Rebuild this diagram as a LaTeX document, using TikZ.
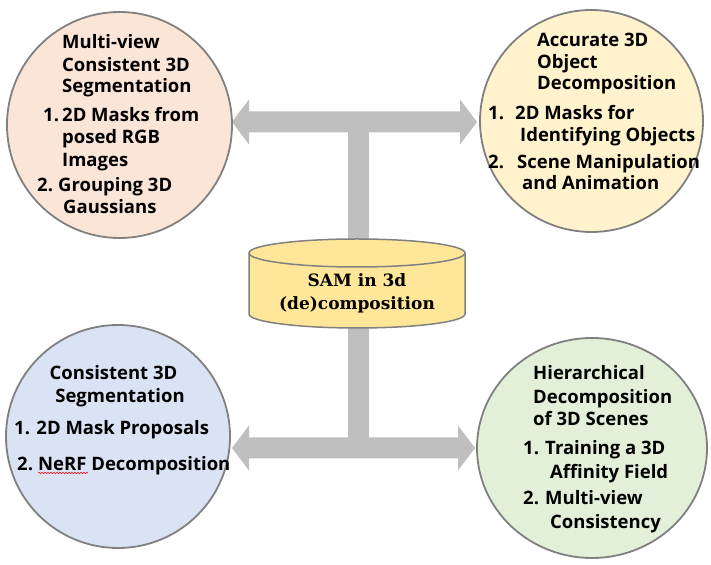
\documentclass[tikz,border=0pt]{standalone}
\usepackage{fontspec}
\usetikzlibrary{shapes.geometric,calc,decorations.pathmorphing}
\newfontfamily\notosans{Open Sans}[BoldFont={Open Sans Bold}]
\newfontfamily\serifbold{DejaVu Serif}
\definecolor{barg}{HTML}{BFBFBF}
\definecolor{edgeg}{HTML}{808080}
\definecolor{cpeach}{HTML}{FBE5D6}
\definecolor{cyel}{HTML}{FFF2CC}
\definecolor{cblue}{HTML}{DAE3F3}
\definecolor{cgreen}{HTML}{E2F0D9}
\definecolor{cgold}{HTML}{FFE699}
\tikzset{
  bubble/.style={ellipse, draw=edgeg, line width=1.8pt, inner sep=0pt},
  txt/.style={anchor=base west, inner sep=0pt, font=\notosans\bfseries\fontsize{18.5}{22}\selectfont},
  ctxt/.style={anchor=base, inner sep=0pt, font=\notosans\bfseries\fontsize{18.5}{22}\selectfont},
  bar/.style={fill=barg, draw=none},
  stem/.style={barg, line width=21pt},
}
\newcommand\dblarrow[2]{%
  \fill[bar] (#1) -- ($(#1)+(17,22.5)$) -- ($(#1)+(17,10.5)$) -- ($(#2)+(-17,10.5)$)
    -- ($(#2)+(-17,22.5)$) -- (#2) -- ($(#2)+(-17,-22.5)$) -- ($(#2)+(-17,-10.5)$)
    -- ($(#1)+(17,-10.5)$) -- ($(#1)+(17,-22.5)$) -- cycle;}
\begin{document}
\begin{tikzpicture}[x=1pt,y=1pt]
\useasboundingbox (0,0) rectangle (711,564);
% bars
\coordinate (topL) at (232,442);
\coordinate (topR) at (477,442);
\coordinate (botL) at (232,116);
\coordinate (botR) at (475,116);
\dblarrow{topL}{topR}
\dblarrow{botL}{botR}
\coordinate (cyltop) at (358,311);
\coordinate (cylbot) at (358,250);
\draw[stem] (cyltop) -- (cyltop |- topL);
\draw[stem] (cylbot) -- (cylbot |- botL);
% circles
\node[bubble, fill=cpeach, minimum width=225pt, minimum height=226pt] (tl) at (119.5,439) {};
\node[bubble, fill=cyel, minimum width=223pt, minimum height=222pt] (tr) at (591.5,443) {};
\node[bubble, fill=cblue, minimum width=224pt, minimum height=223pt] (bl) at (118,127.5) {};
\node[bubble, fill=cgreen, minimum width=230pt, minimum height=220pt] (br) at (592,116) {};
% cylinder
\filldraw[fill=cgold, draw=edgeg, line width=1.5pt]
  (249,311) -- (249,250) arc[start angle=180, end angle=360, x radius=108pt, y radius=14pt]
  -- (465,311) arc[start angle=0, end angle=180, x radius=108pt, y radius=14pt] -- cycle;
\draw[edgeg, line width=1.5pt] (249,311) arc[start angle=180, end angle=360, x radius=108pt, y radius=14pt];
\node[align=center, inner sep=0pt, font=\serifbold\bfseries\fontsize{17}{23}\selectfont] (cyl) at (357,270.5) {SAM in 3d\\(de)composition};
% top-left text
\node[txt] (tl1) at (62,515.5) {Multi-view};
\node[txt] (tl2) at (62,492.5) {Consistent 3D};
\node[txt] (tl3) at (62,471.5) {Segmentation};
\node[txt] (tl4n) at (43,442.5) {1.};
\node[txt] (tl4) at (62,442.5) {2D Masks from};
\node[txt] (tl5) at (62,420.5) {posed RGB};
\node[txt] (tl6) at (62,397.5) {Images};
\node[txt] (tl7n) at (37,372.5) {2.};
\node[txt] (tl7) at (58,372.5) {Grouping 3D};
\node[txt] (tl8) at (63,350.5) {Gaussians};
% top-right text
\node[txt] (tr1) at (537,517.5) {Accurate 3D};
\node[txt] (tr2) at (537,495.5) {Object};
\node[txt] (tr3) at (537,474.5) {Decomposition};
\node[txt] (tr4n) at (488,444.5) {1.};
\node[txt] (tr4) at (515,444.5) {2D Masks for};
\node[txt] (tr5) at (520,422.5) {Identifying Objects};
\node[txt] (tr6n) at (488,395.5) {2.};
\node[txt] (tr6) at (517,395.5) {Scene Manipulation};
\node[txt] (tr7) at (522,374.5) {and Animation};
% bottom-left text
\node[ctxt] (bl1) at (113.5,184.5) {Consistent 3D};
\node[ctxt] (bl2) at (120,161.5) {Segmentation};
\node[txt] (bl3) at (14,129.5) {1. 2D Mask Proposals};
\node[txt] (bl4n) at (17,93.5) {2.};
\node[txt] (bl4) at (38,93.5) {NeRF Decomposition};
\draw[red, line width=0.5pt, decorate, decoration={snake, amplitude=0.7pt, segment length=3pt}] (bl4.base west) ++(0,-2.5) coordinate (sq1) -- ++(50,0) coordinate (sq2);
% bottom-right text
\node[txt] (br1) at (533,184.5) {Hierarchical};
\node[txt] (br2) at (533,160.5) {Decomposition};
\node[txt] (br3) at (533,138.5) {of 3D Scenes};
\node[txt] (br4n) at (523,109.5) {1.};
\node[txt] (br4) at (545,109.5) {Training a 3D};
\node[txt] (br5) at (550,85.5) {Affinity Field};
\node[txt] (br6n) at (523,59.5) {2.};
\node[txt] (br6) at (545,59.5) {Multi-view};
\node[txt] (br7) at (550,35.5) {Consistency};
\end{tikzpicture}
\end{document}
